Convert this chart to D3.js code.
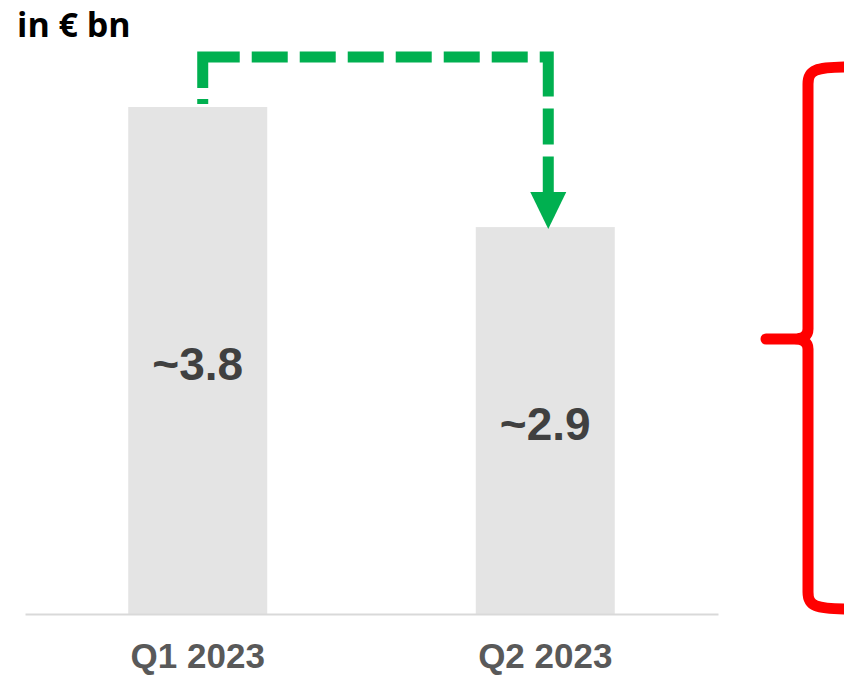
<!DOCTYPE html>
<html>
<head>
<meta charset="utf-8">
<script src="https://cdn.jsdelivr.net/npm/d3@7"></script>
<style>
  body { margin: 0; background: #fff; }
</style>
</head>
<body>
<script>
const width = 844
const height = 675
const margin = ({top: 107, right: 126, bottom: 61, left: 25})

// data
const quarters = ["Q1 2023", "Q2 2023"]
const values = [3.8, 2.9]
const valueLabels = ["~3.8", "~2.9"]
const unitLabel = "in € bn"

const data = quarters.map((q, i) => ({name: q, value: values[i], label: valueLabels[i]}))

const x = d3.scaleBand()
    .domain(quarters)
    .range([margin.left, width - margin.right])
    .paddingInner(0.6)
    .paddingOuter(0.297)

const y = d3.scaleLinear()
    .domain([0, d3.max(values)])
    .range([height - margin.bottom, margin.top])

const svg = d3.select("body").append("svg")
    .attr("width", width)
    .attr("height", height)

// bars
svg.append("g")
  .selectAll("rect")
  .data(data)
  .join("rect")
    .attr("x", d => x(d.name))
    .attr("y", d => y(d.value))
    .attr("width", x.bandwidth())
    .attr("height", d => y(0) - y(d.value))
    .attr("fill", "#e4e4e4")

// value labels in the middle of each bar
svg.append("g")
    .attr("font-family", "'Liberation Sans', Arial, sans-serif")
    .attr("font-weight", "bold")
    .attr("font-size", 46)
    .attr("fill", "#404040")
    .attr("text-anchor", "middle")
  .selectAll("text")
  .data(data)
  .join("text")
    .attr("x", d => x(d.name) + x.bandwidth() / 2)
    .attr("y", d => (y(d.value) + y(0)) / 2 + 3)
    .attr("dy", "0.35em")
    .text(d => d.label)

// x axis
svg.append("g")
    .attr("transform", `translate(0,${y(0)})`)
    .call(d3.axisBottom(x).tickSize(0).tickPadding(29))
    .call(g => g.select(".domain").attr("stroke", "#d9d9d9").attr("stroke-width", 2))
    .call(g => g.selectAll(".tick text")
        .attr("font-family", "'Liberation Sans', Arial, sans-serif")
        .attr("font-weight", "bold")
        .attr("font-size", 35)
        .attr("fill", "#595959"))

// unit label
svg.append("text")
    .attr("x", 17)
    .attr("y", 37)
    .attr("font-family", "'Open Sans', sans-serif")
    .attr("font-weight", "bold")
    .attr("font-size", 34)
    .attr("fill", "#000")
    .text(unitLabel)

// green dashed elbow arrow from Q1 to Q2
const x1 = x(quarters[0]) + x.bandwidth() / 2 + 5
const x2 = x(quarters[1]) + x.bandwidth() / 2 + 3
const yStart = y(values[0]) - 3
const yTop = 57
const headH = 37
const headW = 36
const yTip = y(values[1]) + 2
const green = "#00b050"

svg.append("path")
    .attr("d", d3.line()([[x1, yStart], [x1, yTop], [x2, yTop], [x2, yTip - headH]]))
    .attr("fill", "none")
    .attr("stroke", green)
    .attr("stroke-width", 11)
    .attr("stroke-dasharray", "5,11,68,12,36,12,36,12,36,12,36,12,36,12,36,12,48,12,36,12,36,12")
    .attr("stroke-linejoin", "miter")

svg.append("path")
    .attr("d", d3.line()([[x2 - headW / 2, yTip - headH], [x2 + headW / 2, yTip - headH], [x2, yTip]]) + "Z")
    .attr("fill", green)

// red brace on the right
const bx = 808
const bTop = 70
const bBot = 606
const bMid = 339
const brace = d3.path()
brace.moveTo(850, bTop - 3)
brace.bezierCurveTo(815, bTop - 3, bx, bTop, bx, bTop + 14)
brace.lineTo(bx, bMid - 10)
brace.quadraticCurveTo(bx, bMid, bx - 14, bMid)
brace.lineTo(766, bMid)
brace.moveTo(bx - 14, bMid)
brace.quadraticCurveTo(bx, bMid, bx, bMid + 10)
brace.lineTo(bx, bBot - 14)
brace.bezierCurveTo(bx, bBot, 815, bBot + 3, 850, bBot + 3)

svg.append("path")
    .attr("d", brace.toString())
    .attr("fill", "none")
    .attr("stroke", "#ff0000")
    .attr("stroke-width", 11)
    .attr("stroke-linecap", "round")
    .attr("stroke-linejoin", "round")
</script>
</body>
</html>
